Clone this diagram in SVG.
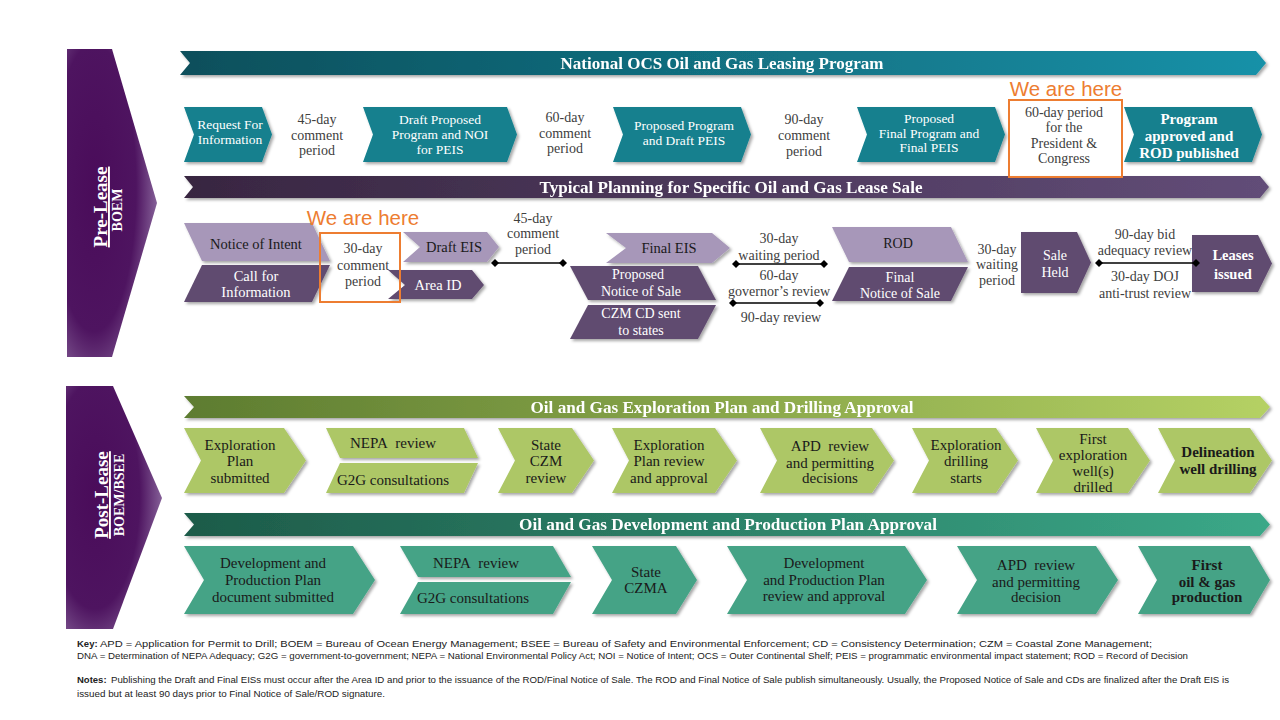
<svg xmlns="http://www.w3.org/2000/svg" width="1280" height="720" viewBox="0 0 1280 720">
<defs>
<style>
text{font-family:"Liberation Serif","Times New Roman",serif;dominant-baseline:central;text-anchor:middle}
.w{fill:#fff;font-size:13.5px}
.wb{fill:#fff;font-size:15px;font-weight:bold}
.d{fill:#1a1a1a;font-size:14.5px}
.db{fill:#1a1a1a;font-size:15px;font-weight:bold}
.g{fill:#404040;font-size:14px}
.d3{fill:#1a1a1a;font-size:15px}
.ttl{fill:#fff;font-size:17px;font-weight:bold}
.here{fill:#ED7D31;font-family:"Liberation Sans",Arial,sans-serif;font-size:20.5px}
.key{fill:#222;font-family:"Liberation Sans",Arial,sans-serif;font-size:9.5px;text-anchor:start;dominant-baseline:auto}
.teal{fill:#13808e}
.lp{fill:#a797b9}
.dp{fill:#614b70}
.gr{fill:#adc766}
.tg{fill:#45a386}
.box{fill:none;stroke:#ED7D31;stroke-width:2}
.conn{stroke:#000;stroke-width:1.3;fill:none;marker-start:url(#dia);marker-end:url(#dia)}
</style>
<filter id="sh" x="-5%" y="-15%" width="115%" height="140%"><feDropShadow dx="2" dy="2" stdDeviation="1.5" flood-color="#000" flood-opacity="0.35"/></filter>
<marker id="dia" markerWidth="8" markerHeight="8" refX="4" refY="4" markerUnits="userSpaceOnUse"><path d="M0,4 L4,0 L8,4 L4,8 Z" fill="#000"/></marker>
<radialGradient id="blk" cx="0.3" cy="0.45" r="0.85">
<stop offset="0" stop-color="#4a0c5a"/><stop offset="0.55" stop-color="#4e1460"/><stop offset="0.85" stop-color="#8a679d"/><stop offset="1" stop-color="#c4adcf"/>
</radialGradient>
<linearGradient id="b1" x1="0" x2="1"><stop offset="0" stop-color="#0d4f5b"/><stop offset="1" stop-color="#1691a8"/></linearGradient>
<linearGradient id="b2" x1="0" x2="1"><stop offset="0" stop-color="#382641"/><stop offset="1" stop-color="#624d78"/></linearGradient>
<linearGradient id="b3" x1="0" x2="1"><stop offset="0" stop-color="#5d7c30"/><stop offset="1" stop-color="#b5d164"/></linearGradient>
<linearGradient id="b4" x1="0" x2="1"><stop offset="0" stop-color="#1d5b49"/><stop offset="1" stop-color="#3ba888"/></linearGradient>
</defs>
<rect width="1280" height="720" fill="#fff"/>

<g id="pre-lease">
<polygon points="67,49 112,49 157,203 112,357 67,357" fill="url(#blk)"/>
<text transform="translate(107,207) rotate(-90)" style="dominant-baseline:auto;fill:#fff;font-size:19px;font-weight:bold;text-decoration:underline">Pre-Lease</text>
<text transform="translate(122,210) rotate(-90)" style="dominant-baseline:auto;fill:#fff;font-size:14px;font-weight:bold">BOEM</text>
</g>
<g id="post-lease">
<polygon points="66,386 113,386 162,498 113,629 66,629" fill="url(#blk)"/>
<text transform="translate(108,495) rotate(-90)" style="dominant-baseline:auto;fill:#fff;font-size:19px;font-weight:bold;text-decoration:underline">Post-Lease</text>
<text transform="translate(124,495) rotate(-90)" style="dominant-baseline:auto;fill:#fff;font-size:14px;font-weight:bold">BOEM/BSEE</text>
</g>

<g id="banner-national" filter="url(#sh)">
<polygon points="180,51 1256,51 1266,63 1256,75 180,75 190,63" fill="url(#b1)"/>
<text class="ttl" x="722" y="63.5" textLength="323" lengthAdjust="spacingAndGlyphs">National OCS Oil and Gas Leasing Program</text>
</g>
<g id="banner-planning" filter="url(#sh)">
<polygon points="184,176 1260,176 1269,187 1260,198 184,198 193,187" fill="url(#b2)"/>
<text class="ttl" x="731" y="187" textLength="383" lengthAdjust="spacingAndGlyphs">Typical Planning for Specific Oil and Gas Lease Sale</text>
</g>
<g id="banner-exploration" filter="url(#sh)">
<polygon points="184,396 1260,396 1270,407 1260,418 184,418 194,407" fill="url(#b3)"/>
<text class="ttl" x="722" y="407" textLength="383" lengthAdjust="spacingAndGlyphs">Oil and Gas Exploration Plan and Drilling Approval</text>
</g>
<g id="banner-development" filter="url(#sh)">
<polygon points="184,513 1260,513 1270,524.5 1260,536 184,536 194,524.5" fill="url(#b4)"/>
<text class="ttl" x="728" y="524.5" textLength="418" lengthAdjust="spacingAndGlyphs">Oil and Gas Development and Production Plan Approval</text>
</g>

<!-- Row 1 -->
<g id="rfi"><polygon class="teal" filter="url(#sh)" points="184,107 262,107 272,134.5 262,162 184,162 194,134.5"/>
<text class="w" x="230" y="124">Request For</text><text class="w" x="230" y="139">Information</text></g>
<g id="c45a"><text class="g" x="317" y="119">45-day</text><text class="g" x="317" y="135">comment</text><text class="g" x="317" y="150">period</text></g>
<g id="draft-proposed"><polygon class="teal" filter="url(#sh)" points="363,107 507,107 517,134.5 507,162 363,162 373,134.5"/>
<text class="w" x="440" y="119">Draft Proposed</text><text class="w" x="440" y="134">Program and NOI</text><text class="w" x="440" y="149">for PEIS</text></g>
<g id="c60a"><text class="g" x="565" y="117">60-day</text><text class="g" x="565" y="133">comment</text><text class="g" x="565" y="148">period</text></g>
<g id="proposed-program"><polygon class="teal" filter="url(#sh)" points="613,107 741,107 751,134.5 741,162 613,162 623,134.5"/>
<text class="w" x="684" y="125">Proposed Program</text><text class="w" x="684" y="140">and Draft PEIS</text></g>
<g id="c90"><text class="g" x="804" y="119">90-day</text><text class="g" x="804" y="135">comment</text><text class="g" x="804" y="151">period</text></g>
<g id="proposed-final"><polygon class="teal" filter="url(#sh)" points="857,107 995,107 1005,134.5 995,162 857,162 867,134.5"/>
<text class="w" x="929" y="118">Proposed</text><text class="w" x="929" y="133">Final Program and</text><text class="w" x="929" y="147">Final PEIS</text></g>
<g id="president"><text class="here" x="1066" y="88">We are here</text>
<rect class="box" x="1009" y="100" width="113" height="77"/>
<text class="g" x="1064" y="112">60-day period</text><text class="g" x="1064" y="127">for the</text><text class="g" x="1064" y="143">President &amp;</text><text class="g" x="1064" y="158">Congress</text></g>
<g id="program-approved"><polygon class="teal" filter="url(#sh)" points="1124,107 1252,107 1262,134.5 1252,162 1124,162 1134,134.5"/>
<text class="wb" x="1189" y="119">Program</text><text class="wb" x="1189" y="136">approved and</text><text class="wb" x="1189" y="153">ROD published</text></g>

<!-- Row 2 -->
<g id="noi"><polygon class="lp" filter="url(#sh)" points="184,223 312,223 330,261 202,261"/>
<text class="d" x="256" y="244">Notice of Intent</text></g>
<g id="call"><polygon class="dp" filter="url(#sh)" points="202,265 330,265 312,302 184,302"/>
<text class="w" style="font-size:14.5px" x="256" y="276">Call for</text><text class="w" style="font-size:14.5px" x="256" y="292">Information</text></g>
<g id="draft-eis"><polygon class="lp" filter="url(#sh)" points="403,232 487,232 499,247 487,262 403,262 420,247"/>
<text class="d" x="454" y="247">Draft EIS</text></g>
<g id="area-id"><polygon class="dp" filter="url(#sh)" points="388,270 472,270 484,285 472,299 388,299 405,285"/>
<text class="w" style="font-size:14.5px" x="438" y="285">Area ID</text></g>
<g id="c30"><text class="here" x="363" y="217">We are here</text>
<rect class="box" x="320" y="233" width="80" height="69"/>
<text class="g" x="363" y="248">30-day</text><text class="g" x="363" y="265">comment</text><text class="g" x="363" y="281">period</text></g>
<g id="c45b"><text class="g" x="533" y="218">45-day</text><text class="g" x="533" y="233">comment</text><text class="g" x="533" y="249">period</text></g>
<g id="final-eis"><polygon class="lp" filter="url(#sh)" points="606,233 712,233 730,248 712,263 606,263 626,248"/>
<text class="d" x="669" y="248">Final EIS</text></g>
<g id="pnos"><polygon class="dp" filter="url(#sh)" points="570,266 698,266 716,300 588,300"/>
<text class="w" style="font-size:14px" x="638" y="274">Proposed</text><text class="w" style="font-size:14px" x="641" y="291">Notice of Sale</text></g>
<g id="czm"><polygon class="dp" filter="url(#sh)" points="588,305 716,305 698,339 570,339"/>
<text class="w" style="font-size:14px" x="641" y="313">CZM CD sent</text><text class="w" style="font-size:14px" x="641" y="330">to states</text></g>
<g id="w30a"><text class="g" x="779" y="238">30-day</text><text class="g" x="779" y="255">waiting period</text></g>
<g id="gov60"><text class="g" x="779" y="275">60-day</text><text class="g" x="779" y="291">governor’s review</text></g>
<g id="r90"><text class="g" x="781" y="317">90-day review</text></g>
<g id="rod"><polygon class="lp" filter="url(#sh)" points="832,227 951,227 968,262 849,262"/>
<text class="d" style="font-size:14px" x="898" y="243">ROD</text></g>
<g id="fnos"><polygon class="dp" filter="url(#sh)" points="849,267 968,267 951,301 832,301"/>
<text class="w" style="font-size:14px" x="900" y="277">Final</text><text class="w" style="font-size:14px" x="900" y="293">Notice of Sale</text></g>
<g id="w30b"><text class="g" x="997" y="249">30-day</text><text class="g" x="997" y="264">waiting</text><text class="g" x="997" y="280">period</text></g>
<g id="sale-held"><polygon class="dp" filter="url(#sh)" points="1021,232 1077,232 1091,262.5 1077,293 1021,293"/>
<text class="w" style="font-size:14px" x="1055" y="255">Sale</text><text class="w" style="font-size:14px" x="1055" y="272">Held</text></g>
<g id="bid90"><text class="g" x="1145" y="234">90-day bid</text><text class="g" x="1145" y="250">adequacy review</text></g>
<g id="doj30"><text class="g" x="1145" y="276">30-day DOJ</text><text class="g" x="1145" y="293">anti-trust review</text></g>
<g id="leases"><polygon class="dp" filter="url(#sh)" points="1192,235 1258,235 1272,263.5 1258,292 1192,292"/>
<text class="wb" style="font-size:14.5px" x="1233" y="255">Leases</text><text class="wb" style="font-size:14.5px" x="1233" y="274">issued</text></g>

<g id="connectors">
<line class="conn" x1="495" y1="263" x2="563" y2="263"/>
<line class="conn" x1="736" y1="264" x2="824" y2="264"/>
<line class="conn" x1="733" y1="303" x2="820" y2="303"/>
<line class="conn" x1="1099" y1="263" x2="1196" y2="263"/>
</g>

<!-- Row 3 -->
<g id="exp-submitted"><polygon class="gr" filter="url(#sh)" points="184,428 284,428 306,460.5 284,493 184,493 201,460.5"/>
<text class="d3" x="240" y="445">Exploration</text><text class="d3" x="240" y="461">Plan</text><text class="d3" x="240" y="478">submitted</text></g>
<g id="nepa1"><polygon class="gr" filter="url(#sh)" points="326,428 464,428 478,458 340,458"/>
<text class="d3" x="393" y="443">NEPA&#160; review</text></g>
<g id="g2g1"><polygon class="gr" filter="url(#sh)" points="340,463 478,463 464,493 326,493"/>
<text class="d3" x="393" y="480">G2G consultations</text></g>
<g id="state-czm"><polygon class="gr" filter="url(#sh)" points="498,428 572,428 594,460.5 572,493 498,493 515,460.5"/>
<text class="d3" x="546" y="445">State</text><text class="d3" x="546" y="461">CZM</text><text class="d3" x="546" y="478">review</text></g>
<g id="exp-review"><polygon class="gr" filter="url(#sh)" points="612,428 715,428 737,460.5 715,493 612,493 629,460.5"/>
<text class="d3" x="669" y="445">Exploration</text><text class="d3" x="669" y="461">Plan review</text><text class="d3" x="669" y="478">and approval</text></g>
<g id="apd1"><polygon class="gr" filter="url(#sh)" points="760,428 872,428 894,460.5 872,493 760,493 777,460.5"/>
<text class="d3" x="830" y="446">APD&#160; review</text><text class="d3" x="830" y="463">and permitting</text><text class="d3" x="830" y="478">decisions</text></g>
<g id="exp-drilling"><polygon class="gr" filter="url(#sh)" points="912,428 996,428 1018,460.5 996,493 912,493 929,460.5"/>
<text class="d3" x="966" y="445">Exploration</text><text class="d3" x="966" y="461">drilling</text><text class="d3" x="966" y="478">starts</text></g>
<g id="first-well"><polygon class="gr" filter="url(#sh)" points="1036,428 1128,428 1150,460.5 1128,493 1036,493 1053,460.5"/>
<text class="d3" x="1093" y="439">First</text><text class="d3" x="1093" y="455">exploration</text><text class="d3" x="1093" y="471">well(s)</text><text class="d3" x="1093" y="487">drilled</text></g>
<g id="delineation"><polygon class="gr" filter="url(#sh)" points="1158,428 1250,428 1272,460.5 1250,493 1158,493 1175,460.5"/>
<text class="db" x="1218" y="452">Delineation</text><text class="db" x="1218" y="469">well drilling</text></g>

<!-- Row 4 -->
<g id="dev-submitted"><polygon class="tg" filter="url(#sh)" points="184,546 353,546 375,580 353,614 184,614 204,580"/>
<text class="d3" x="273" y="563">Development and</text><text class="d3" x="273" y="580">Production Plan</text><text class="d3" x="273" y="597">document submitted</text></g>
<g id="nepa2"><polygon class="tg" filter="url(#sh)" points="400,546 553,546 571,577 418,577"/>
<text class="d3" x="476" y="563">NEPA&#160; review</text></g>
<g id="g2g2"><polygon class="tg" filter="url(#sh)" points="418,582 571,582 553,614 400,614"/>
<text class="d3" x="473" y="598">G2G consultations</text></g>
<g id="czma"><polygon class="tg" filter="url(#sh)" points="592,546 676,546 697,580 676,614 592,614 612,580"/>
<text class="d3" x="646" y="572">State</text><text class="d3" x="646" y="588">CZMA</text></g>
<g id="dev-review"><polygon class="tg" filter="url(#sh)" points="727,546 905,546 927,580 905,614 727,614 747,580"/>
<text class="d3" x="824" y="563">Development</text><text class="d3" x="824" y="580">and Production Plan</text><text class="d3" x="824" y="596">review and approval</text></g>
<g id="apd2"><polygon class="tg" filter="url(#sh)" points="957,546 1096,546 1118,580 1096,614 957,614 977,580"/>
<text class="d3" x="1036" y="565">APD&#160; review</text><text class="d3" x="1036" y="582">and permitting</text><text class="d3" x="1036" y="597">decision</text></g>
<g id="first-oil"><polygon class="tg" filter="url(#sh)" points="1138,546 1250,546 1270,580 1250,614 1138,614 1157,580"/>
<text class="db" x="1207" y="565">First</text><text class="db" x="1207" y="582">oil &amp; gas</text><text class="db" x="1207" y="597">production</text></g>

<g id="key">
<text class="key" x="77" y="647" style="font-weight:bold">Key:</text>
<text class="key" x="100" y="647" textLength="1052" lengthAdjust="spacingAndGlyphs">APD = Application for Permit to Drill; BOEM = Bureau of Ocean Energy Management; BSEE = Bureau of Safety and Environmental Enforcement; CD = Consistency Determination; CZM = Coastal Zone Management;</text>
<text class="key" x="77" y="659" textLength="1111" lengthAdjust="spacingAndGlyphs">DNA = Determination of NEPA Adequacy; G2G = government-to-government; NEPA = National Environmental Policy Act; NOI = Notice of Intent; OCS = Outer Continental Shelf; PEIS = programmatic environmental impact statement; ROD = Record of Decision</text>
<text class="key" x="77" y="683" style="font-weight:bold">Notes:</text>
<text class="key" x="111" y="683" textLength="1118" lengthAdjust="spacingAndGlyphs">Publishing the Draft and Final EISs must occur after the Area ID and prior to the issuance of the ROD/Final Notice of Sale.  The ROD and Final Notice of Sale publish simultaneously.  Usually, the Proposed Notice of Sale and CDs are finalized after the Draft EIS is</text>
<text class="key" x="77" y="697" textLength="308" lengthAdjust="spacingAndGlyphs">issued but at least 90 days prior to Final Notice of Sale/ROD signature.</text>
</g>
</svg>
